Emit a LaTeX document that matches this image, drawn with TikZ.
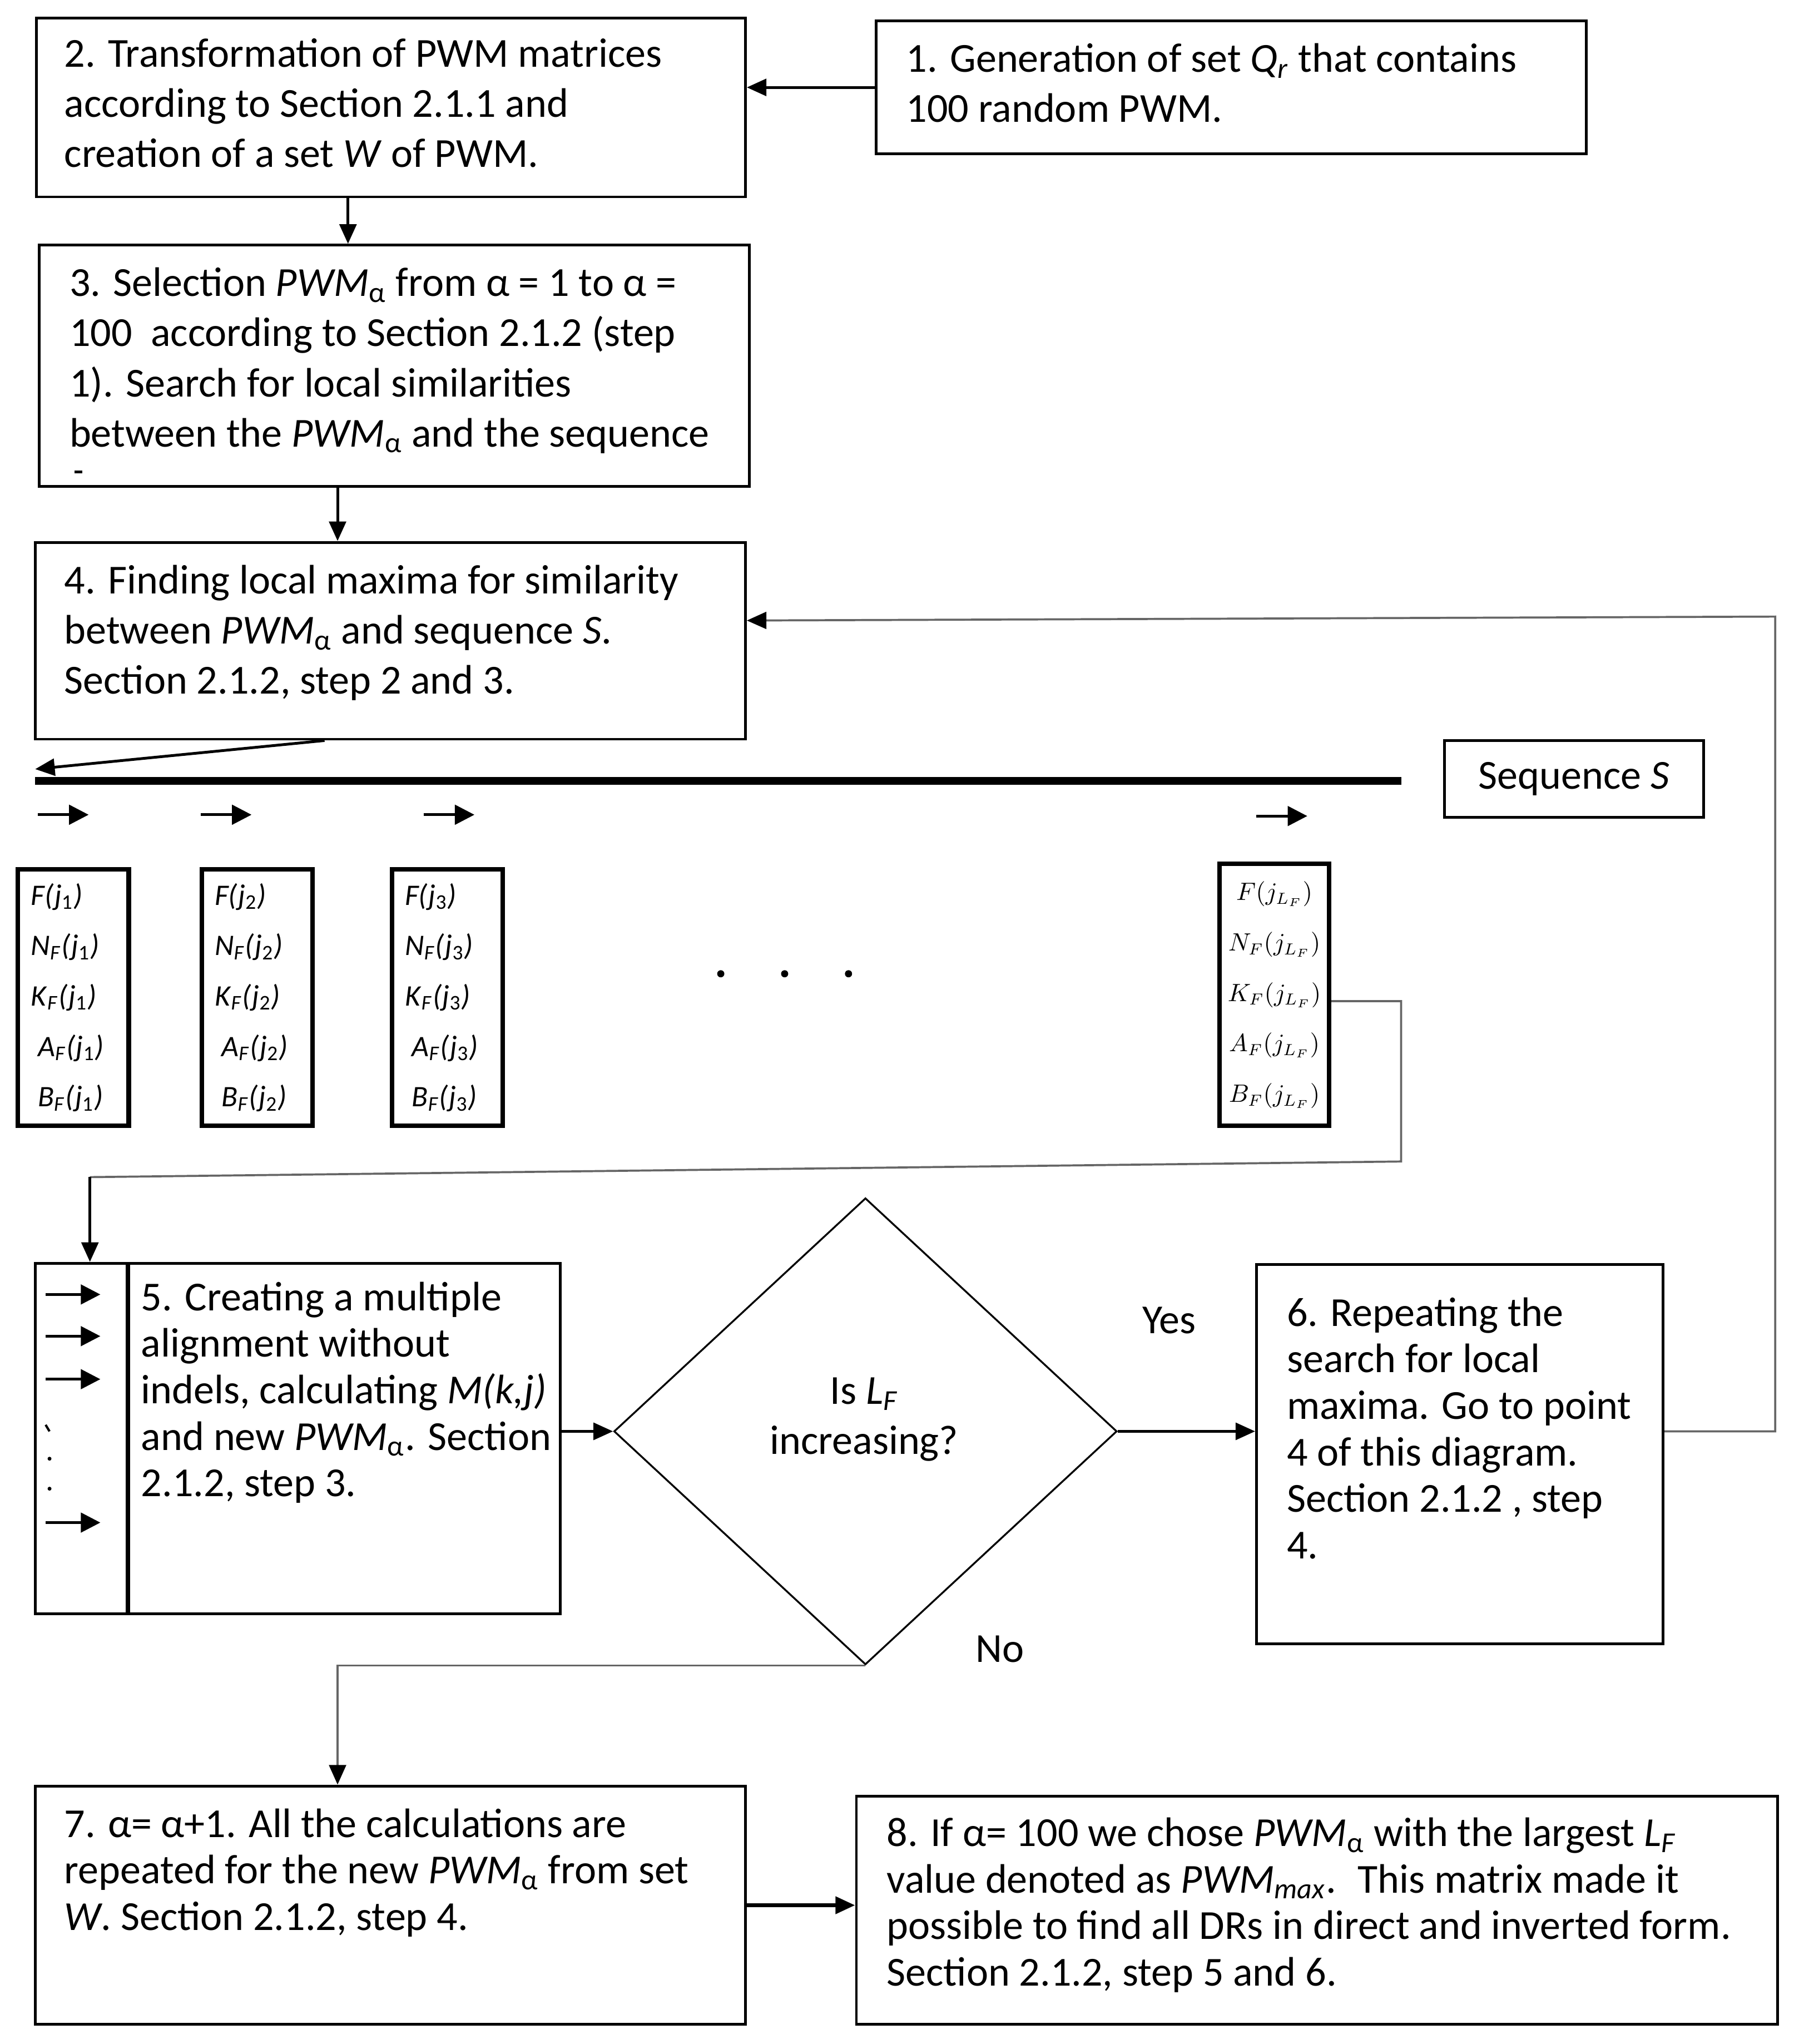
\documentclass[tikz,border=0pt]{standalone}
\usepackage{fontspec}
\setmainfont{Carlito}
\usetikzlibrary{arrows.meta,shapes.geometric}

\newcommand{\pwma}{\textit{PWM}\textsubscript{α}}
\newcommand{\fsub}[2]{\textit{#1}\textsubscript{\textit{F}}\textit{(j}\textsubscript{#2}\textit{)}}
\newcommand{\fone}[1]{\textit{F(j}\textsubscript{#1}\textit{)}}

\tikzset{
  box/.style={draw, line width=1.2pt, anchor=north west, inner sep=0pt},
  txt/.style={anchor=north west, align=left, inner sep=0pt, font=\fontsize{18}{21.9}\selectfont},
  txtb/.style={txt, font=\fontsize{18}{20.3}\selectfont},
  fcell/.style={draw, line width=2pt, anchor=north west, inner xsep=0.2cm, inner ysep=0pt, align=left,
    text width=1.3cm, minimum width=1.7cm, minimum height=3.94cm, font=\fontsize{13}{22}\selectfont},
  arr/.style={line width=1.2pt, -{Triangle[length=0.3cm, width=0.26cm]}},
  tiny arr/.style={line width=1.2pt, -{Triangle[length=0.3cm, width=0.3cm]}},
  grayline/.style={draw=black!60, line width=0.9pt},
}

\begin{document}
\begin{tikzpicture}[x=0.02cm, y=-0.02cm]
\useasboundingbox (0,0) rectangle (1380,1568);

% top boxes
\node[box, minimum width=10.9cm, minimum height=2.04cm] (b1) at (671,15) {};
\node[txt] (t1) at (695,33) {1. Generation of set \textit{Q}\textsubscript{\textit{r}} that contains\\100 random PWM.};

\node[box, minimum width=10.88cm, minimum height=2.74cm] (b2) at (27,13) {};
\node[txt] (t2) at (49,29) {2. Transformation of PWM matrices\\according to Section 2.1.1 and\\creation of a set \textit{W} of PWM.};

\node[box, minimum width=10.9cm, minimum height=3.7cm] (b3) at (29,187) {};
\node[txt] (t3) at (53,205) {3. Selection \pwma{} from α = 1 to α =\\100~ according to Section 2.1.2 (step\\1). Search for local similarities\\between the \pwma{} and the sequence};
\fill (57,361) rectangle (63,363);

\node[box, minimum width=10.9cm, minimum height=3.02cm] (b4) at (26,415) {};
\node[txt] (t4) at (49,433) {4. Finding local maxima for similarity\\between \pwma{} and sequence \textit{S}.\\Section 2.1.2, step 2 and 3.};

\draw[arr] (b1.west) -- (b1.west -| b2.east);
\draw[arr] (267,0 |- b2.south) -- (267,0 |- b3.north);
\draw[arr] (259,0 |- b3.south) -- (259,0 |- b4.north);

% sequence
\coordinate (seqL) at (27,599);
\coordinate (seqR) at (1075,599);
\coordinate (seqtip) at (27,590);
\draw[line width=3.2pt] (seqL) -- (seqR);
\draw[arr] (249,0 |- b4.south) -- (seqtip);
\node[box, minimum width=3.98cm, minimum height=1.18cm, font=\fontsize{18}{21.9}\selectfont] (seq) at (1107,567) {Sequence \textit{S}};

\draw[tiny arr] (29,625) -- (68,625);
\draw[tiny arr] (154,625) -- (193,625);
\draw[tiny arr] (325,625) -- (364,625);
\draw[tiny arr] (964,626) -- (1003,626);

% F cells
\node[fcell] (fb1) at (12,665) {\fone{1}\\\fsub{N}{1}\\\fsub{K}{1}\\\hspace*{3pt}\fsub{A}{1}\\\hspace*{3pt}\fsub{B}{1}};
\node[fcell] (fb2) at (153,665) {\fone{2}\\\fsub{N}{2}\\\fsub{K}{2}\\\hspace*{3pt}\fsub{A}{2}\\\hspace*{3pt}\fsub{B}{2}};
\node[fcell, minimum width=1.68cm] (fb3) at (299,665) {\fone{3}\\\fsub{N}{3}\\\fsub{K}{3}\\\hspace*{3pt}\fsub{A}{3}\\\hspace*{3pt}\fsub{B}{3}};
\node[fcell, align=center, inner xsep=0.04cm, text width=1.6cm, minimum width=1.68cm, minimum height=4.02cm,
  font=\fontsize{10.5}{22}\selectfont] (fb4) at (934,661)
  {$F(j_{L_F})$\\$N_F(j_{L_F})$\\$K_F(j_{L_F})$\\$A_F(j_{L_F})$\\$B_F(j_{L_F})$};

\fill (553,747) circle[radius=0.055cm];
\fill (602,747) circle[radius=0.055cm];
\fill (651,747) circle[radius=0.055cm];

% box 5
\node[box, minimum width=8.06cm, minimum height=5.38cm] (b5) at (26,968) {};
\draw[line width=2pt] (98,0 |- b5.north) -- (98,0 |- b5.south);
\node[txtb] (t5) at (108,983) {5. Creating a multiple\\alignment without\\indels, calculating \textit{M(k,j)}\\and new \pwma. Section\\2.1.2, step 3.};
\draw[tiny arr] (35,993) -- (77,993);
\draw[tiny arr] (35,1025) -- (77,1025);
\draw[tiny arr] (35,1058) -- (77,1058);
\draw[tiny arr] (35,1168) -- (77,1168);
\draw[line width=1pt] (35,1093) -- (38,1098);
\fill (38,1119) circle[radius=0.03cm];
\fill (38,1142) circle[radius=0.03cm];

\coordinate (kc1) at (1075,891);
\coordinate (kc2) at (69,903);
\draw[grayline] (fb4.east |- 0,768) -- (1075,768) -- (kc1) -- (kc2);
\draw[arr] (kc2) -- (69,0 |- b5.north);

% decision
\node[diamond, draw, line width=0.8pt, minimum width=7.72cm, minimum height=7.16cm, inner sep=0pt] (dec) at (664,1098) {};
\node[align=center, inner sep=0pt, font=\fontsize{18}{21.9}\selectfont] (dect) at (663,1089) {Is \textit{L}\textsubscript{\textit{F}}\\increasing?};

\node[box, minimum width=6.24cm, minimum height=5.82cm] (b6) at (963,969) {};
\node[txtb] (t6) at (987,995) {6. Repeating the\\search for local\\maxima. Go to point\\4 of this diagram.\\Section 2.1.2 , step\\4.};

\draw[arr] (b5.east |- dec.west) -- (dec.west);
\draw[arr] (dec.east) -- (dec.east -| b6.west);
\node[font=\fontsize{18}{21.9}\selectfont] (yes) at (897,1013) {Yes};
\node[font=\fontsize{18}{21.9}\selectfont] (no) at (767,1265) {No};

\draw[grayline, -{Triangle[length=0.3cm, width=0.26cm, color=black]}] (b6.east |- dec.east) -- (1362,0 |- dec.east) -- (1362,473) -- (b4.east |- 0,476);

% bottom boxes
\node[box, minimum width=10.9cm, minimum height=3.66cm] (b7) at (26,1369) {};
\node[txtb] (t7) at (49,1387) {7. α= α+1. All the calculations are\\repeated for the new \pwma{} from set\\\textit{W}. Section 2.1.2, step 4.};

\node[box, minimum width=14.14cm, minimum height=3.5cm] (b8) at (656,1377) {};
\node[txtb] (t8) at (680,1394) {8. If α= 100 we chose \pwma{} with the largest \textit{L}\textsubscript{\textit{F}}\\value denoted as \textit{PWM}\textsubscript{\textit{max}}.~ This matrix made it\\possible to find all DRs in direct and inverted form.\\Section 2.1.2, step 5 and 6.};

\draw[grayline, -{Triangle[length=0.3cm, width=0.26cm, color=black]}] (dec.south) -- (259,0 |- dec.south) -- (259,0 |- b7.north);
\draw[line width=1.6pt, -{Triangle[length=0.3cm, width=0.26cm]}] (b7.east) -- (b7.east -| b8.west);

\end{tikzpicture}
\end{document}
